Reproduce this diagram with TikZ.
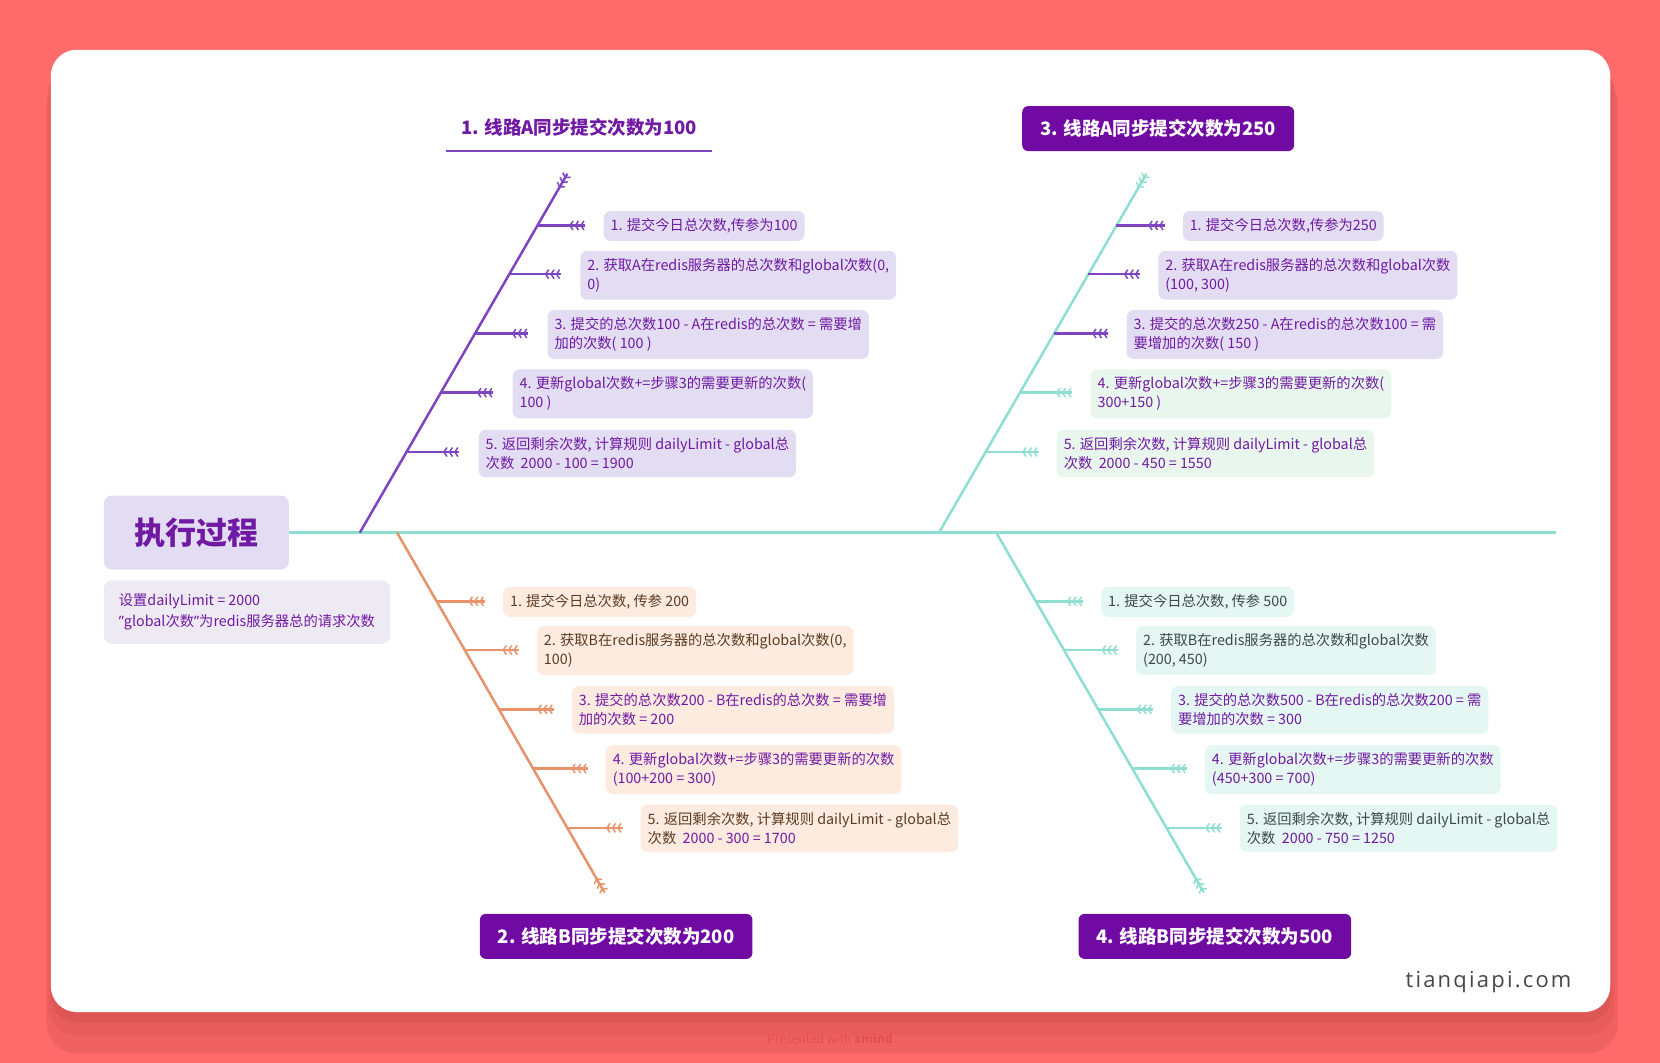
\documentclass[tikz,border=0pt]{standalone}
\usepackage{fontspec}
\setmainfont{Noto Sans CJK SC}
\newfontfamily\wmfont[LetterSpace=10]{Open Sans}
\newfontfamily\quotefont{Noto Sans}
\usetikzlibrary{arrows.meta,positioning}

\definecolor{bgred}{HTML}{FF6A6A}
\definecolor{shadowA}{HTML}{F06262}
\definecolor{shadowB}{HTML}{E85C5C}
\definecolor{shadowC}{HTML}{DE5656}
\definecolor{markred}{HTML}{E25050}
\definecolor{lavender}{HTML}{E2DDF2}
\definecolor{notegray}{HTML}{EEEAF3}
\definecolor{peach}{HTML}{FDEBE0}
\definecolor{mint}{HTML}{E5F7F2}
\definecolor{mintB}{HTML}{E9F6EE}
\definecolor{txtpurple}{HTML}{7019A3}
\definecolor{headpurple}{HTML}{700AA3}
\definecolor{linepurple}{HTML}{7D45C0}
\definecolor{lineorange}{HTML}{E8936A}
\definecolor{lineteal}{HTML}{8EDFD2}
\definecolor{txtbrown}{HTML}{5B3B22}
\definecolor{txtdark}{HTML}{3A4A46}
\definecolor{wmgray}{HTML}{474747}

\begin{document}
\begin{tikzpicture}[
  x=1.0587pt,
  y=-1.0587pt,
  font=\fontsize{14.3}{19}\selectfont,
  root/.style={fill=lavender, text=txtpurple, rounded corners=8pt, minimum width=185pt, minimum height=74pt, font=\fontsize{31}{36}\selectfont\bfseries},
  note/.style={fill=notegray, text=txtpurple, rounded corners=8pt, align=left, minimum width=286pt, minimum height=63.5pt, inner xsep=11pt, font=\fontsize{14.3}{21}\selectfont},
  head/.style={fill=headpurple, text=white, rounded corners=6pt, minimum height=45pt, inner xsep=18pt, font=\fontsize{18.5}{22}\selectfont\bfseries},
  tipbox/.style={rounded corners=7pt, align=left, anchor=west, inner xsep=7pt, inner ysep=7.5pt},
  boxA/.style={tipbox, fill=lavender, text=txtpurple},
  boxG/.style={tipbox, fill=mintB, text=txtpurple},
  boxP/.style={tipbox, fill=peach, text=#1},
  boxM/.style={tipbox, fill=mint, text=#1},
  fins/.style={-{Straight Barb[reversed,length=3pt,width=9pt,sep=0.8pt,line width=1.5pt]Straight Barb[reversed,length=3pt,width=9pt,sep=0.8pt,line width=1.5pt]Straight Barb[reversed,length=3pt,width=9pt,sep=0.8pt,line width=1.5pt]}},
  bone/.style={draw=#1, line width=2.2pt, postaction={draw=#1, fins}},
  rib/.style={bone=#1, line width=2.6pt}
]

% background and card
\fill[bgred] (0,0) rectangle (1568,1004);
\useasboundingbox (0,0) rectangle (1568,1004);
\fill[shadowA, rounded corners=30pt] (44,70) rectangle (1528,995);
\fill[shadowB, rounded corners=28pt] (46,60) rectangle (1525,978);
\fill[shadowC, rounded corners=27pt] (48,55) rectangle (1522,966);
\fill[white, rounded corners=26pt] (48,47) rectangle (1521,956);

% root and spine
\node[root] (root) at (185.5,503) {执行过程};
\node[note, anchor=north west] (setup) at (98,548) {设置dailyLimit = 2000\\{\quotefont ”}global次数{\quotefont ”}为redis服务器总的请求次数};
\coordinate (spineEnd) at (1470,503);
\draw[lineteal, line width=2.6pt] (root.east) -- (spineEnd);

% branch 1: route A, 100
\coordinate (a1base) at (340,503);
\coordinate (a1tip) at (536,164);
\draw[bone=linepurple] (a1base) -- (a1tip);
\node[text=txtpurple, font=\fontsize{18.5}{22}\selectfont\bfseries] (lblA1) at (547,120) {1. 线路A同步提交次数为100};
\draw[linepurple, line width=2pt] (421,143) coordinate (ulA) -- (673,143) coordinate (urA);

\node[boxA] (a1n1) at (570,213.5) {1. 提交今日总次数,传参为100};
\node[boxA] (a1n2) at (548,260) {2. 获取A在redis服务器的总次数和global次数(0,\\0)};
\node[boxA] (a1n3) at (517,316) {3. 提交的总次数100 - A在redis的总次数 = 需要增\\加的次数( 100 )};
\node[boxA] (a1n4) at (484,372) {4. 更新global次数+=步骤3的需要更新的次数(\\100 )};
\node[boxA] (a1n5) at (452,428.5) {5. 返回剩余次数, 计算规则 dailyLimit - global总\\次数\ \ 2000 - 100 = 1900};

\draw[rib=linepurple] (507.3,213) coordinate (a1s1) -- (553,213);
\draw[rib=linepurple] (480.8,259) coordinate (a1s2) -- (530,259);
\draw[rib=linepurple] (448.5,315) coordinate (a1s3) -- (499,315);
\draw[rib=linepurple] (416.2,371) coordinate (a1s4) -- (466,371);
\draw[rib=linepurple] (383.9,427) coordinate (a1s5) -- (434,427);

% branch 3: route A, 250
\coordinate (a2base) at (887,503);
\coordinate (a2tip) at (1083,164);
\draw[bone=lineteal] (a2base) -- (a2tip);
\node[head] (lblA2) at (1094,121.5) {3. 线路A同步提交次数为250};

\node[boxA] (a2n1) at (1117,213.5) {1. 提交今日总次数,传参为250};
\node[boxA] (a2n2) at (1094,260) {2. 获取A在redis服务器的总次数和global次数\\(100, 300)};
\node[boxA] (a2n3) at (1064,316) {3. 提交的总次数250 - A在redis的总次数100 = 需\\要增加的次数( 150 )};
\node[boxG] (a2n4) at (1030,372) {4. 更新global次数+=步骤3的需要更新的次数(\\300+150 )};
\node[boxG] (a2n5) at (998,428.5) {5. 返回剩余次数, 计算规则 dailyLimit - global总\\次数\ \ 2000 - 450 = 1550};

\draw[rib=linepurple] (1054.3,213) coordinate (a2s1) -- (1100,213);
\draw[rib=linepurple] (1027.8,259) coordinate (a2s2) -- (1077,259);
\draw[rib=linepurple] (995.5,315) coordinate (a2s3) -- (1047,315);
\draw[rib=lineteal] (963.2,371) coordinate (a2s4) -- (1013,371);
\draw[rib=lineteal] (930.9,427) coordinate (a2s5) -- (981,427);

% branch 2: route B, 200
\coordinate (b1base) at (375,503);
\coordinate (b1tip) at (571,843);
\draw[bone=lineorange] (b1base) -- (b1tip);
\node[head] (lblB1) at (582,884.5) {2. 线路B同步提交次数为200};

\node[boxP=txtbrown] (b1n1) at (475,568.5) {1. 提交今日总次数, 传参 200};
\node[boxP=txtbrown] (b1n2) at (507,614.5) {2. 获取B在redis服务器的总次数和global次数(0,\\100)};
\node[boxP=txtpurple] (b1n3) at (540,670.5) {3. 提交的总次数200 - B在redis的总次数 = 需要增\\加的次数 = 200};
\node[boxP=txtpurple] (b1n4) at (572,727) {4. 更新global次数+=步骤3的需要更新的次数\\(100+200 = 300)};
\node[boxP=txtbrown] (b1n5) at (605,782.5) {5. 返回剩余次数, 计算规则 dailyLimit - global总\\次数\ \ \textcolor{txtpurple}{2000 - 300 = 1700}};

\draw[rib=lineorange] (412.4,568) coordinate (b1s1) -- (458,568);
\draw[rib=lineorange] (438.8,614) coordinate (b1s2) -- (490,614);
\draw[rib=lineorange] (471,670) coordinate (b1s3) -- (523,670);
\draw[rib=lineorange] (503.3,726) coordinate (b1s4) -- (555,726);
\draw[rib=lineorange] (535.5,782) coordinate (b1s5) -- (588,782);

% branch 4: route B, 500
\coordinate (b2base) at (941,503);
\coordinate (b2tip) at (1137,843);
\draw[bone=lineteal] (b2base) -- (b2tip);
\node[head] (lblB2) at (1147.5,884.5) {4. 线路B同步提交次数为500};

\node[boxM=txtdark] (b2n1) at (1040,568.5) {1. 提交今日总次数, 传参 500};
\node[boxM=txtdark] (b2n2) at (1073,614.5) {2. 获取B在redis服务器的总次数和global次数\\(200, 450)};
\node[boxM=txtpurple] (b2n3) at (1106,670.5) {3. 提交的总次数500 - B在redis的总次数200 = 需\\要增加的次数 = 300};
\node[boxM=txtpurple] (b2n4) at (1138,727) {4. 更新global次数+=步骤3的需要更新的次数\\(450+300 = 700)};
\node[boxM=txtdark] (b2n5) at (1171,782.5) {5. 返回剩余次数, 计算规则 dailyLimit - global总\\次数\ \ \textcolor{txtpurple}{2000 - 750 = 1250}};

\draw[rib=lineteal] (978.4,568) coordinate (b2s1) -- (1023,568);
\draw[rib=lineteal] (1004.8,614) coordinate (b2s2) -- (1056,614);
\draw[rib=lineteal] (1037,670) coordinate (b2s3) -- (1089,670);
\draw[rib=lineteal] (1069.3,726) coordinate (b2s4) -- (1121,726);
\draw[rib=lineteal] (1101.5,782) coordinate (b2s5) -- (1154,782);

% marks
\node[text=wmgray, font=\wmfont\fontsize{22}{25}\selectfont] (site) at (1406,928) {tianqiapi.com};
\node[text=markred, font=\fontsize{12}{14}\selectfont] (made) at (784,981) {Presented with \textbf{xmind}};

\end{tikzpicture}
\end{document}
